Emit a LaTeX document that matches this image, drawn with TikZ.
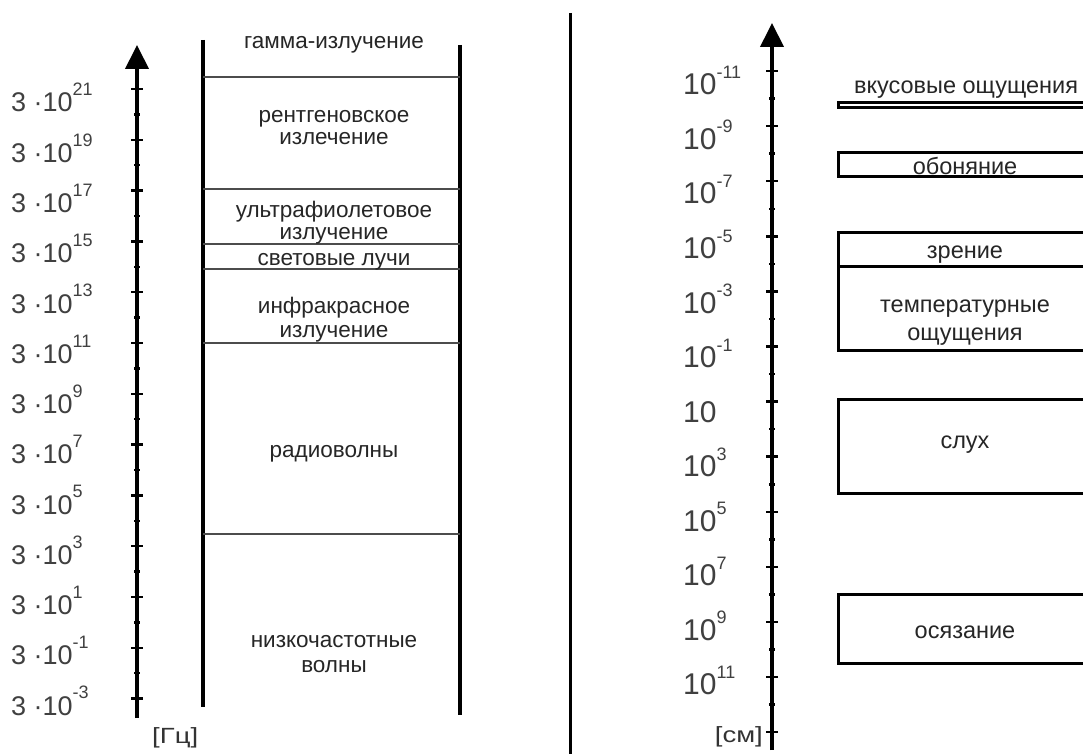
\documentclass[tikz,border=0pt]{standalone}
\usepackage{fontspec}
\setmainfont{Liberation Sans}
\newfontfamily\unitfont[FakeStretch=1.25]{Liberation Sans}
\usetikzlibrary{arrows.meta}
\newcommand\myexpL[1]{\raisebox{0.6em}{\fontsize{18}{18}\selectfont #1}}
\newcommand\myexpR[1]{\raisebox{0.55em}{\fontsize{18}{18}\selectfont #1}}
\begin{document}
\begin{tikzpicture}[x=1pt,y=-1pt,
  ax/.style={line width=4pt,-{Triangle[width=23pt,length=24pt]}},
  majtick/.style={line width=2.5pt},
  mintick/.style={line width=2.5pt},
  colline/.style={line width=4pt},
  sepline/.style={line width=2pt,draw=black!70},
  bx/.style={line width=3pt},
  lt/.style={font=\fontsize{22.5}{24}\selectfont, text=black!85, anchor=base, inner sep=0pt},
  rt/.style={font=\fontsize{23.5}{25}\selectfont, text=black!85, anchor=base, inner sep=0pt},
  llab/.style={font=\fontsize{27}{29}\selectfont, text=black!75, anchor=base west, inner sep=0pt},
  rlab/.style={font=\fontsize{30}{32}\selectfont, text=black!75, anchor=base west, inner sep=0pt},
  unit/.style={font=\unitfont\fontsize{22}{24}\selectfont, text=black!80, inner sep=0pt},
]
\useasboundingbox (0,0) rectangle (1083,754);
\clip (0,0) rectangle (1083,754);
\fill[white] (0,0) rectangle (1083,754);

% ---------- left axis ----------
\coordinate (lbot) at (137,718);
\coordinate (ltop) at (137,45);
\draw[ax] (lbot) -- (ltop);
\foreach \k in {0,...,12} \draw[majtick] (131,{89+50.8*\k}) -- (143,{89+50.8*\k});
\foreach \k in {0,...,11} \draw[mintick] (134,{89+50.8*(\k+0.5)}) -- (140,{89+50.8*(\k+0.5)});
\foreach \k/\e in {0/21,1/19,2/17,3/15,4/13,5/11,6/9,7/7,8/5,9/3,10/1,11/-1,12/-3}
  \node[llab] (fl\k) at (11,{112+50.25*\k}) {3 ·10\myexpL{\e}};
\node[unit,anchor=base west] (hz) at (152,743) {[Гц]};

% ---------- left column ----------
\coordinate (cla) at (203,40);  \coordinate (clb) at (203,707);
\coordinate (cra) at (460,45);  \coordinate (crb) at (460,715);
\draw[colline] (cla) -- (clb);
\draw[colline] (cra) -- (crb);
\foreach \y in {77,189,244,269,343,534} \draw[sepline] (203,\y) -- (460,\y);

\node[lt] (gam) at (334,49) {гамма-излучение};
\node[lt] (xr1) at (334,123) {рентгеновское};
\node[lt] (xr2) at (334,145) {излечение};
\node[lt] (uv1) at (334,217) {ультрафиолетовое};
\node[lt] (uv2) at (334,239) {излучение};
\node[lt] (vis) at (334,265) {световые лучи};
\node[lt] (ir1) at (334,313) {инфракрасное};
\node[lt] (ir2) at (334,337) {излучение};
\node[lt] (rad) at (334,457) {радиоволны};
\node[lt] (lf1) at (334,647) {низкочастотные};
\node[lt] (lf2) at (334,672) {волны};

% ---------- divider ----------
\coordinate (dva) at (570,13); \coordinate (dvb) at (570,756);
\draw[line width=3pt] (dva) -- (dvb);

% ---------- right axis ----------
\coordinate (rbot) at (772,750);
\coordinate (rtop) at (772,23);
\draw[ax] (rbot) -- (rtop);
\foreach \k in {0,...,12} \draw[majtick] (766,{71+55.1*\k}) -- (778,{71+55.1*\k});
\foreach \k in {0,...,11} \draw[mintick] (769,{71+55.1*(\k+0.5)}) -- (775,{71+55.1*(\k+0.5)});
\foreach \k/\e in {0/-11,1/-9,2/-7,3/-5,4/-3,5/-1,7/3,8/5,9/7,10/9,11/11}
  \node[rlab] (wl\k) at (683,{95+54.5*\k}) {10\myexpR{\e}};
\node[rlab] (wl6) at (683,{95+54.5*6}) {10};
\node[unit,anchor=base east] (cm) at (763,742) {[см]};

% ---------- right boxes ----------
\draw[bx] (838,102.5) rectangle (1100,107.5);
\draw[bx] (838,153) rectangle (1100,177);
\draw[bx] (838,232) rectangle (1100,350);
\draw[bx] (838,266) -- (1100,266);
\draw[bx] (838,399) rectangle (1100,493);
\draw[bx] (838,594) rectangle (1100,663);

\node[rt] (taste) at (966,94) {вкусовые ощущения};
\node[rt] (smell) at (965,175) {обоняние};
\node[rt] (sight) at (965,258) {зрение};
\node[rt] (temp1) at (965,312) {температурные};
\node[rt] (temp2) at (965,340) {ощущения};
\node[rt] (hear) at (965,448) {слух};
\node[rt] (touch) at (965,638) {осязание};
\end{tikzpicture}
\end{document}
